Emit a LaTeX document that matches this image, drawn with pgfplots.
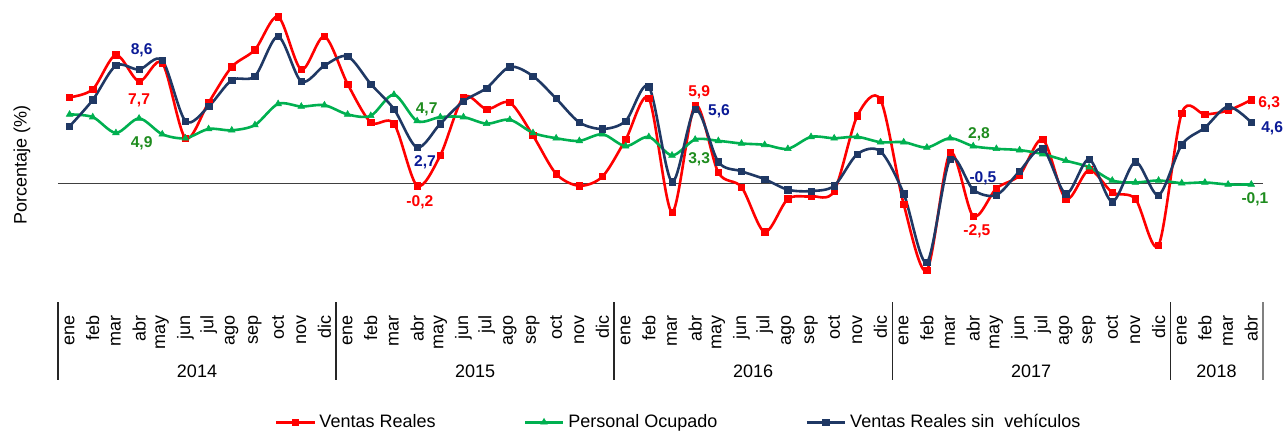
\documentclass[border=0pt]{standalone}
\usepackage{fontspec}
\setmainfont{Liberation Sans}
\usepackage{pgfplots}
\usepackage{pgfplotstable}
\pgfplotsset{compat=1.18}
\definecolor{cvr}{HTML}{FF0000}
\definecolor{cpo}{HTML}{00B050}
\definecolor{cvs}{HTML}{1F3864}
\definecolor{lpo}{HTML}{1E8C1E}
\definecolor{lvs}{HTML}{0A1A96}

\pgfplotstableread{
x vr po vs
0 6.5 5.2 4.3
1 7.1 5.0 6.3
2 9.7 3.8 8.9
3 7.7 4.9 8.6
4 9.1 3.7 9.3
5 3.4 3.4 4.7
6 6.1 4.1 5.8
7 8.8 4.0 7.8
8 10.1 4.4 8.1
9 12.6 6.0 11.1
10 8.6 5.8 7.7
11 11.1 5.9 8.9
12 7.5 5.2 9.6
13 4.6 5.1 7.5
14 4.5 6.7 5.6
15 -0.2 4.7 2.7
16 2.1 5.0 4.5
17 6.5 5.0 6.2
18 5.6 4.5 7.2
19 6.1 4.8 8.8
20 3.6 3.8 8.1
21 0.7 3.4 6.4
22 -0.2 3.2 4.6
23 0.5 3.7 4.1
24 3.3 2.8 4.7
25 6.4 3.5 7.3
26 -2.2 2.1 0.1
27 5.9 3.3 5.6
28 0.8 3.2 1.6
29 -0.3 3.0 0.9
30 -3.7 2.9 0.3
31 -1.2 2.6 -0.5
32 -1.0 3.5 -0.6
33 -0.6 3.4 -0.2
34 5.1 3.5 2.2
35 6.3 3.1 2.4
36 -1.6 3.1 -0.8
37 -6.6 2.7 -6.0
38 2.3 3.4 1.8
39 -2.5 2.8 -0.5
40 -0.4 2.6 -0.9
41 0.6 2.5 0.9
42 3.3 2.2 2.6
43 -1.2 1.7 -0.8
44 1.0 1.2 1.8
45 -0.7 0.2 -1.4
46 -1.2 0.05 1.6
47 -4.7 0.2 -0.9
48 5.3 0.0 2.9
49 5.2 0.05 4.2
50 5.5 -0.1 5.8
51 6.3 -0.1 4.6
}\datatab

\begin{document}
\begin{tikzpicture}
\begin{axis}[
  scale only axis, width=602pt, height=145.2pt,
  xmin=-0.5, xmax=51.5, ymin=-8.5, ymax=13.5,
  axis line style={draw=none},
  ytick=\empty,
  xtick={0,...,51},
  xticklabels={ene,feb,mar,abr,may,jun,jul,ago,sep,oct,nov,dic,
               ene,feb,mar,abr,may,jun,jul,ago,sep,oct,nov,dic,
               ene,feb,mar,abr,may,jun,jul,ago,sep,oct,nov,dic,
               ene,feb,mar,abr,may,jun,jul,ago,sep,oct,nov,dic,
               ene,feb,mar,abr},
  major tick length=0pt,
  xticklabel shift=9.9pt,
  xticklabel style={rotate=90, anchor=east, inner sep=0pt, font=\fontsize{9}{10}\selectfont},
  clip=false,
  legend columns=3,
  legend style={at={(0.516,-0.4366)}, anchor=center, draw=none,
    font=\fontsize{9}{10}\selectfont,
    /tikz/every even column/.append style={column sep=42pt}},
  legend image code/.code={\draw[mark repeat=2,mark phase=2,#1] plot coordinates {(0pt,0pt) (9.5pt,0pt) (19pt,0pt)};},
]
\addplot[black!75, line width=0.6pt, forget plot] coordinates {(-0.5,0) (51.5,0)};

\addplot[cvr, line width=1.3pt, smooth, mark=square*, mark size=1.6pt, mark options={solid, line width=0.3pt}] table[x=x,y=vr]{\datatab};
\addlegendentry{Ventas Reales}
\addplot[cpo, line width=1.3pt, smooth, mark=triangle*, mark size=1.9pt, mark options={solid, line width=0.3pt}] table[x=x,y=po]{\datatab};
\addlegendentry{Personal Ocupado}
\addplot[cvs, line width=1.3pt, smooth, mark=square*, mark size=1.6pt, mark options={solid, line width=0.3pt}] table[x=x,y=vs]{\datatab};
\addlegendentry{Ventas Reales sin\ \ vehículos}

% category separators
\draw[black!85, line width=0.6pt] (axis cs:-0.5,-9.02) -- (axis cs:-0.5,-14.92);
\draw[black!85, line width=0.6pt] (axis cs:11.5,-9.02) -- (axis cs:11.5,-14.92);
\draw[black!85, line width=0.6pt] (axis cs:23.5,-9.02) -- (axis cs:23.5,-14.92);
\draw[black!85, line width=0.6pt] (axis cs:35.5,-9.02) -- (axis cs:35.5,-14.92);
\draw[black!85, line width=0.6pt] (axis cs:47.5,-9.02) -- (axis cs:47.5,-14.92);
\draw[gray, line width=0.8pt] (axis cs:51.5,-9.02) -- (axis cs:51.5,-14.92);

\node[font=\fontsize{9}{10}\selectfont] at (axis cs:5.5,-14.24) {2014};
\node[font=\fontsize{9}{10}\selectfont] at (axis cs:17.5,-14.24) {2015};
\node[font=\fontsize{9}{10}\selectfont] at (axis cs:29.5,-14.24) {2016};
\node[font=\fontsize{9}{10}\selectfont] at (axis cs:41.5,-14.24) {2017};
\node[font=\fontsize{9}{10}\selectfont] at (axis cs:49.5,-14.24) {2018};

\node[rotate=90, font=\fontsize{9}{10}\selectfont] at (axis cs:-2.05,1.36) {Porcentaje (\%)};

% data labels
\node[font=\bfseries\fontsize{7.8}{9}\selectfont, inner sep=0pt, text=lvs] at (axis cs:3.11,10.08) {8,6};
\node[font=\bfseries\fontsize{7.8}{9}\selectfont, inner sep=0pt, text=cvr] at (axis cs:3.00,6.29) {7,7};
\node[font=\bfseries\fontsize{7.8}{9}\selectfont, inner sep=0pt, text=lpo] at (axis cs:3.11,3.03) {4,9};
\node[font=\bfseries\fontsize{7.8}{9}\selectfont, inner sep=0pt, text=lpo] at (axis cs:15.41,5.61) {4,7};
\node[font=\bfseries\fontsize{7.8}{9}\selectfont, inner sep=0pt, text=lvs] at (axis cs:15.34,1.59) {2,7};
\node[font=\bfseries\fontsize{7.8}{9}\selectfont, inner sep=0pt, text=cvr] at (axis cs:15.12,-1.44) {-0,2};
\node[font=\bfseries\fontsize{7.8}{9}\selectfont, inner sep=0pt, text=cvr] at (axis cs:27.17,6.89) {5,9};
\node[font=\bfseries\fontsize{7.8}{9}\selectfont, inner sep=0pt, text=lvs] at (axis cs:28.03,5.45) {5,6};
\node[font=\bfseries\fontsize{7.8}{9}\selectfont, inner sep=0pt, text=lpo] at (axis cs:27.17,1.82) {3,3};
\node[font=\bfseries\fontsize{7.8}{9}\selectfont, inner sep=0pt, text=lpo] at (axis cs:39.25,3.71) {2,8};
\node[font=\bfseries\fontsize{7.8}{9}\selectfont, inner sep=0pt, text=lvs] at (axis cs:39.42,0.38) {-0,5};
\node[font=\bfseries\fontsize{7.8}{9}\selectfont, inner sep=0pt, text=cvr] at (axis cs:39.16,-3.64) {-2,5};
\node[font=\bfseries\fontsize{7.8}{9}\selectfont, inner sep=0pt, text=cvr] at (axis cs:51.77,6.06) {6,3};
\node[font=\bfseries\fontsize{7.8}{9}\selectfont, inner sep=0pt, text=lvs] at (axis cs:51.90,4.17) {4,6};
\node[font=\bfseries\fontsize{7.8}{9}\selectfont, inner sep=0pt, text=lpo] at (axis cs:51.16,-1.21) {-0,1};

\coordinate (bbl) at (axis cs:-3.003,-18.712);
\coordinate (btr) at (axis cs:52.37,13.864);
\end{axis}
\pgfresetboundingbox
\useasboundingbox (bbl) rectangle (btr);
\end{tikzpicture}
\end{document}
